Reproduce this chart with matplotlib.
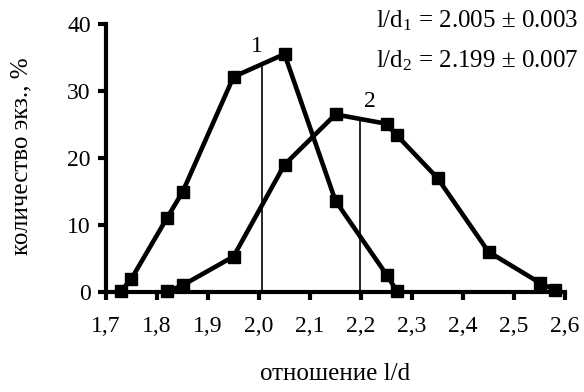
import numpy as np
import matplotlib
matplotlib.use('Agg')
import matplotlib.pyplot as plt
from matplotlib.ticker import FuncFormatter

plt.rcParams['font.family'] = ['Liberation Serif', 'DejaVu Serif']
plt.rcParams['mathtext.fontset'] = 'custom'
plt.rcParams['mathtext.rm'] = 'Liberation Serif'
plt.rcParams['mathtext.it'] = 'Liberation Serif'

# data
x1 = [1.73, 1.75, 1.82, 1.85, 1.95, 2.05, 2.15, 2.25, 2.27]
y1 = [0.2, 2.0, 11.1, 14.9, 32.1, 35.5, 13.6, 2.6, 0.2]
x2 = [1.82, 1.85, 1.95, 2.05, 2.15, 2.25, 2.27, 2.35, 2.45, 2.55, 2.58]
y2 = [0.1, 1.0, 5.3, 19.0, 26.5, 25.1, 23.4, 17.0, 6.0, 1.4, 0.3]
mean1, err1 = 2.005, 0.003
mean2, err2 = 2.199, 0.007

fig = plt.figure(figsize=(5.84, 3.92), dpi=100)
ax = fig.add_axes([0.1815, 0.255, 0.786, 0.684])

for xs, ys in [(x1, y1), (x2, y2)]:
    ax.plot(xs, ys, color='black', lw=3.3, marker='s', ms=8, clip_on=False, zorder=3)

# vertical mean lines up to the curve
ax.plot([mean1, mean1], [0, np.interp(mean1, x1, y1)], color='black', lw=1.2)
ax.plot([mean2, mean2], [0, np.interp(mean2, x2, y2)], color='black', lw=1.2)

ax.text(1.995, 36.6, '1', fontsize=17, ha='center', va='center')
ax.text(2.218, 28.4, '2', fontsize=17, ha='center', va='center')

fig.text(0.99, 0.929, 'l/d$_1$ = %.3f ± %.3f' % (mean1, err1),
         ha='right', va='baseline', fontsize=18)
fig.text(0.99, 0.827, 'l/d$_2$ = %.3f ± %.3f' % (mean2, err2),
         ha='right', va='baseline', fontsize=18)

ax.set_xlim(1.7, 2.6)
ax.set_ylim(0, 40)
ax.set_xticks(np.arange(1.7, 2.61, 0.1))
ax.set_yticks([0, 10, 20, 30, 40])
ax.xaxis.set_major_formatter(FuncFormatter(lambda v, p: ('%.1f' % v).replace('.', ',')))

for s in ['top', 'right']:
    ax.spines[s].set_visible(False)
for s in ['left', 'bottom']:
    ax.spines[s].set_linewidth(3)
ax.tick_params(direction='out', length=6, width=3, labelsize=17)
ax.tick_params(axis='x', pad=11)
ax.tick_params(axis='y', pad=5)

fig.text(0.574, 0.045, 'отношение l/d', fontsize=18, ha='center', va='center')
fig.text(0.036, 0.602, 'количество экз., %', fontsize=18, ha='center', va='center',
         rotation=90)

fig.savefig('out.png', dpi=100)
